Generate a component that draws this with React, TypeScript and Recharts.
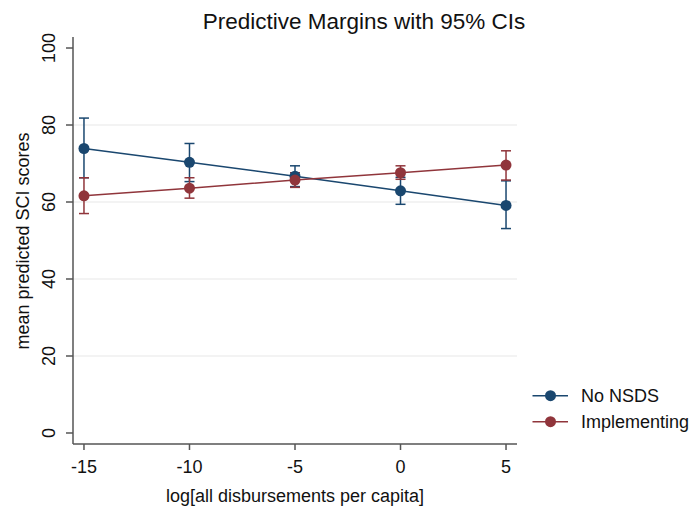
import React from "react";
import { ComposedChart, Line, XAxis, YAxis, CartesianGrid, ErrorBar } from "recharts";

const xValues = [-15, -10, -5, 0, 5];
const noNsds = [73.9, 70.3, 66.7, 62.9, 59.1];
const noNsdsLo = [66.3, 65.3, 64.0, 59.4, 53.1];
const noNsdsHi = [81.8, 75.2, 69.4, 66.4, 65.5];
const impl = [61.6, 63.6, 65.7, 67.6, 69.6];
const implLo = [57.0, 61.0, 63.8, 65.9, 65.7];
const implHi = [66.3, 66.3, 67.6, 69.4, 73.3];
const xTicks = [-15, -10, -5, 0, 5];
const yTicks = [0, 20, 40, 60, 80, 100];
const seriesNames = ["No NSDS", "Implementing"];

const BLUE = "#1a476f";
const RED = "#90353b";
const FONT = "'Liberation Sans', Arial, sans-serif";

const data = xValues.map((x, i) => ({
  x,
  a: noNsds[i],
  aErr: [noNsds[i] - noNsdsLo[i], noNsdsHi[i] - noNsds[i]],
  b: impl[i],
  bErr: [impl[i] - implLo[i], implHi[i] - impl[i]],
}));

const YTick = (props: any) => {
  const { y, payload } = props;
  const tx = 55.5;
  return (
    <text
      x={tx}
      y={y}
      transform={`rotate(-90 ${tx} ${y})`}
      textAnchor="middle"
      fontSize={18}
      fontFamily={FONT}
      fill="#111"
    >
      {payload.value}
    </text>
  );
};

const XTick = (props: any) => {
  const { x, payload } = props;
  return (
    <text x={x} y={473} textAnchor="middle" fontSize={18} fontFamily={FONT} fill="#111">
      {payload.value}
    </text>
  );
};

export default function App() {
  return (
    <div style={{ position: "absolute", left: 0, top: 0, width: 690, height: 506, background: "#fff" }}>
      <ComposedChart
        width={690}
        height={506}
        data={data}
        margin={{ top: 37, right: 173, bottom: 0, left: 0 }}
      >
        <CartesianGrid horizontal vertical={false} horizontalValues={[20, 40, 60, 80]} stroke="#e8e8e8" strokeWidth={1.2} />
        <XAxis
          dataKey="x"
          type="number"
          domain={[-15.52, 5.52]}
          ticks={xTicks}
          height={62}
          tick={<XTick />}
          tickSize={6}
          stroke="#555"
          strokeWidth={1.5}
          allowDataOverflow
        />
        <YAxis
          type="number"
          domain={[-2.86, 102.86]}
          ticks={yTicks}
          width={73}
          tick={<YTick />}
          tickSize={7}
          stroke="#555"
          strokeWidth={1.5}
          allowDataOverflow
        />
        <Line
          dataKey="a"
          name={seriesNames[0]}
          stroke={BLUE}
          strokeWidth={1.5}
          dot={{ r: 5.5, fill: BLUE, stroke: BLUE, strokeWidth: 0 }}
          activeDot={false}
          isAnimationActive={false}
        >
          <ErrorBar dataKey="aErr" width={5} stroke={BLUE} strokeWidth={1.5} direction="y" />
        </Line>
        <Line
          dataKey="b"
          name={seriesNames[1]}
          stroke={RED}
          strokeWidth={1.5}
          dot={{ r: 5.5, fill: RED, stroke: RED, strokeWidth: 0 }}
          activeDot={false}
          isAnimationActive={false}
        >
          <ErrorBar dataKey="bErr" width={5} stroke={RED} strokeWidth={1.5} direction="y" />
        </Line>
      </ComposedChart>
      <svg
        width={690}
        height={506}
        style={{ position: "absolute", left: 0, top: 0, pointerEvents: "none" }}
      >
        <text x={364} y={28.5} textAnchor="middle" fontSize={22.5} fontFamily={FONT} fill="#111">
          Predictive Margins with 95% CIs
        </text>
        <text x={295} y={501.5} textAnchor="middle" fontSize={18} fontFamily={FONT} fill="#111">
          log[all disbursements per capita]
        </text>
        <text
          x={28.5}
          y={241}
          transform="rotate(-90 28.5 241)"
          textAnchor="middle"
          fontSize={18}
          fontFamily={FONT}
          fill="#111"
        >
          mean predicted SCI scores
        </text>
        {[BLUE, RED].map((c, i) => (
          <g key={i}>
            <line x1={532.5} y1={395.7 + i * 26} x2={568} y2={395.7 + i * 26} stroke={c} strokeWidth={1.5} />
            <circle cx={550.5} cy={395.7 + i * 26} r={5.5} fill={c} />
            <text x={581} y={401.5 + i * 26} fontSize={18} fontFamily={FONT} fill="#111">
              {seriesNames[i]}
            </text>
          </g>
        ))}
      </svg>
    </div>
  );
}
